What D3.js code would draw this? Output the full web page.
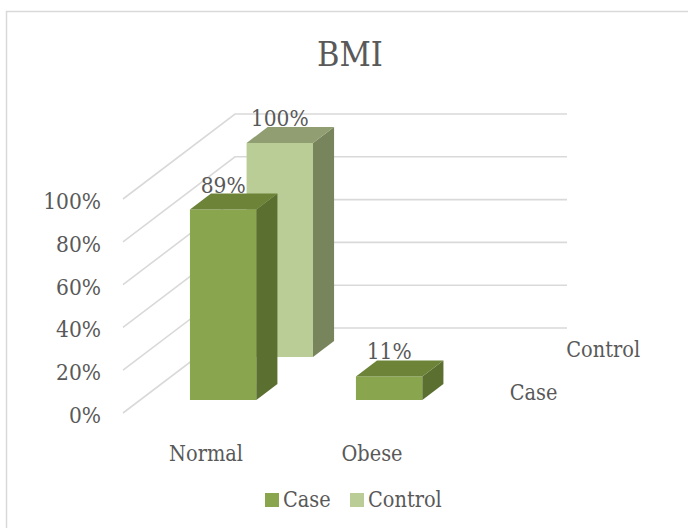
<!DOCTYPE html>
<html>
<head>
<meta charset="utf-8">
<script src="https://cdn.jsdelivr.net/npm/d3@7"></script>
<style>
  html, body { margin: 0; padding: 0; background: #fff; }
  svg { display: block; }
  text { font-family: "DejaVu Serif Condensed", "DejaVu Serif", serif; font-stretch: condensed; fill: #595959; }
</style>
</head>
<body>
<svg id="chart" width="688" height="528"></svg>
<script>
// ---- data ----
const categories = ["Normal", "Obese"];
const seriesNames = ["Case", "Control"];
const caseValues = [0.89, 0.11];
const controlValues = [1.00, 0.00];
const tickValues = [0, 0.2, 0.4, 0.6, 0.8, 1.0];
const title = "BMI";

// ---- styling / geometry ----
const colors = {
  Case:    { front: "#89A54E", side: "#5B6F30", top: "#6C8338" },
  Control: { front: "#BBCD97", side: "#78845C", top: "#909E72" }
};
const gridColor = "#D9D9D9";
const origin = { x: 123, y: 413 };   // front-left-bottom corner of the floor
const floorWidth = 332;
const floorDepth = 85;
const depthSlope = 112 / 85;          // x shift per unit of depth

const svg = d3.select("#chart");

const xScale = d3.scaleBand().domain(categories).range([0, floorWidth])
  .paddingInner(0.6).paddingOuter(0.3);
const zScale = d3.scaleBand().domain(seriesNames).range([0, floorDepth])
  .paddingInner(0.628).paddingOuter(0.3025);
const yScale = d3.scaleLinear().domain([0, 1]).range([0, 214]);
const fmt = d3.format(".0%");

function proj(x, z, v) {
  return [origin.x + x + z * depthSlope, origin.y - z - yScale(v)];
}

// frame
svg.append("rect").attr("x", 6.5).attr("y", 11.5).attr("width", 720).attr("height", 600)
  .attr("fill", "#fff").attr("stroke", gridColor).attr("stroke-width", 1.5);

// title
svg.append("text").attr("x", 350).attr("y", 66).attr("text-anchor", "middle")
  .style("font-size", "34px").text(title);

// gridlines: side wall + back wall
const grid = svg.append("g").attr("stroke", gridColor).attr("stroke-width", 1.6).attr("fill", "none");
tickValues.forEach(v => {
  const a = proj(0, 0, v), b = proj(0, floorDepth, v), c = proj(floorWidth, floorDepth, v);
  grid.append("polyline").attr("points", [a, b, c].map(p => p.join(",")).join(" "));
});

// value axis labels
svg.append("g").selectAll("text").data(tickValues).join("text")
  .attr("x", d => proj(0, 0, d)[0] - 22)
  .attr("y", d => proj(0, 0, d)[1] + 10)
  .attr("text-anchor", "end")
  .style("font-size", "22.5px")
  .text(d => fmt(d));

// bars, back row first
const rows = [
  { name: "Control", values: controlValues },
  { name: "Case", values: caseValues }
];
const barsG = svg.append("g");
const labelsG = svg.append("g");
rows.forEach(row => {
  const col = colors[row.name];
  const z0 = zScale(row.name), z1 = z0 + zScale.bandwidth();
  categories.forEach((cat, i) => {
    const v = row.values[i];
    if (!(v > 0)) return;
    const x0 = xScale(cat), x1 = x0 + xScale.bandwidth();
    const g = barsG.append("g");
    const poly = pts => pts.map(p => p.join(",")).join(" ");
    // front
    g.append("polygon").attr("points", poly([proj(x0, z0, 0), proj(x1, z0, 0), proj(x1, z0, v), proj(x0, z0, v)]))
      .attr("fill", col.front);
    // side
    g.append("polygon").attr("points", poly([proj(x1, z0, 0), proj(x1, z1, 0), proj(x1, z1, v), proj(x1, z0, v)]))
      .attr("fill", col.side);
    // top
    g.append("polygon").attr("points", poly([proj(x0, z0, v), proj(x1, z0, v), proj(x1, z1, v), proj(x0, z1, v)]))
      .attr("fill", col.top);
    // label
    const cx = proj(x0 + xScale.bandwidth() / 2, z0, v)[0];
    const ty = proj(x0, z1, v)[1] - 1;
    labelsG.append("text").attr("x", cx).attr("y", ty).attr("text-anchor", "middle")
      .style("font-size", "22.5px").text(fmt(v));
  });
});

// category labels
svg.append("g").selectAll("text").data(categories).join("text")
  .attr("x", d => proj(xScale(d) + xScale.bandwidth() / 2, 0, 0)[0])
  .attr("y", origin.y + 48)
  .attr("text-anchor", "middle")
  .style("font-size", "21.5px")
  .text(d => d);

// series (depth) labels
svg.append("g").selectAll("text").data(seriesNames).join("text")
  .attr("x", d => proj(floorWidth, zScale(d) + zScale.bandwidth() / 2, 0)[0] + 27)
  .attr("y", d => proj(floorWidth, zScale(d) + zScale.bandwidth() / 2, 0)[1] + 8)
  .attr("text-anchor", "start")
  .style("font-size", "21.5px")
  .text(d => d);

// legend
const legend = svg.append("g");
const legendItems = [{ name: "Case", x: 265 }, { name: "Control", x: 350 }];
legendItems.forEach(it => {
  legend.append("rect").attr("x", it.x).attr("y", 493).attr("width", 14).attr("height", 14)
    .attr("fill", colors[it.name].front);
  legend.append("text").attr("x", it.x + 18).attr("y", 507)
    .style("font-size", "21.5px").text(it.name);
});
</script>
</body>
</html>
